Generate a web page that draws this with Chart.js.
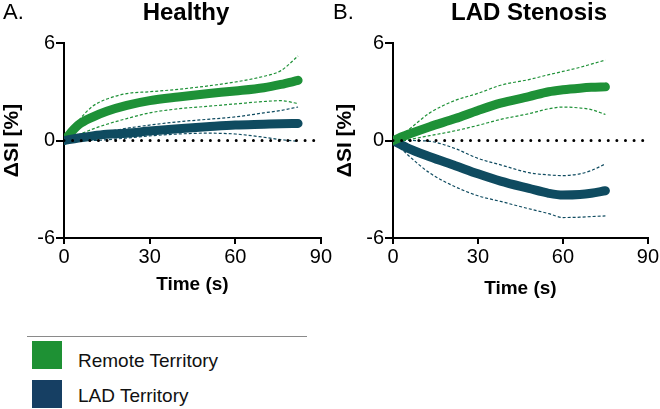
<!DOCTYPE html>
<html>
<head>
<meta charset="utf-8">
<script src="https://cdn.jsdelivr.net/npm/chart.js@4.4.1/dist/chart.umd.min.js"></script>
<style>
  html, body { margin: 0; padding: 0; background: #fff; }
  body { width: 660px; height: 409px; position: relative; overflow: hidden; font-family: 'Liberation Sans', Arial, sans-serif; }
  canvas { position: absolute; top: 0; }
  #ca { left: 0; }
  #cb { left: 330px; }
  .lbl { position: absolute; line-height: 1; white-space: nowrap; color: #000; }
  .panel { font-size: 22px; }
  .ttl { font-size: 24px; font-weight: bold; width: 200px; text-align: center; }
  .rule { position: absolute; left: 27px; top: 336px; width: 280px; height: 1px; background: #8a8a8a; }
  .sw { position: absolute; left: 32px; width: 30px; height: 28px; }
  .leg { position: absolute; left: 78px; font-size: 19px; line-height: 1; white-space: nowrap; color: #111; }
</style>
</head>
<body>
<canvas id="ca" width="333" height="300"></canvas>
<canvas id="cb" width="330" height="300"></canvas>
<div class="lbl panel" style="left:3px; top:1px;">A.</div>
<div class="lbl ttl" style="left:86px; top:0px;">Healthy</div>
<div class="lbl panel" style="left:333px; top:1px;">B.</div>
<div class="lbl ttl" style="left:429px; top:0px;">LAD Stenosis</div>
<div class="rule"></div>
<div class="sw" style="top:341px; background:#1e9134;"></div>
<div class="leg" style="top:351px;">Remote Territory</div>
<div class="sw" style="top:380px; background:#163f63;"></div>
<div class="leg" style="top:386px;">LAD Territory</div>
<script>
// ---------- data ----------
const TICKS_X = [0, 30, 60, 90];
const TICKS_Y = [-6, 0, 6];

// Panel A: Healthy
const TIME_A          = [0, 5, 10, 15, 22, 30, 40, 50, 60, 70, 76, 82];
const REMOTE_A        = [0, 0.95, 1.44, 1.8, 2.16, 2.45, 2.68, 2.88, 3.05, 3.25, 3.45, 3.7];
const REMOTE_A_UPPER  = [0, 1.2, 2.1, 2.55, 2.89, 3.0, 3.15, 3.35, 3.6, 3.95, 4.3, 5.2];
const REMOTE_A_LOWER  = [0, 0.35, 0.7, 1.0, 1.35, 1.7, 1.95, 2.1, 2.25, 2.4, 2.45, 2.27];
const LAD_A           = [0, 0.15, 0.28, 0.38, 0.45, 0.58, 0.72, 0.84, 0.95, 1.0, 1.03, 1.05];
const LAD_A_UPPER     = [0, 0.2, 0.4, 0.55, 0.75, 0.95, 1.15, 1.3, 1.45, 1.7, 1.85, 2.06];
const LAD_A_LOWER     = [0, 0, 0, 0.05, 0.15, 0.28, 0.4, 0.45, 0.4, 0.2, 0.05, -0.05];

// Panel B: LAD Stenosis
const TIME_B          = [0, 5, 13, 22, 30, 38, 48, 55, 60, 66, 70, 75];
const REMOTE_B        = [0, 0.35, 0.85, 1.35, 1.85, 2.3, 2.7, 3.0, 3.12, 3.22, 3.27, 3.3];
const REMOTE_B_UPPER  = [0, 0.6, 1.7, 2.47, 2.9, 3.4, 3.75, 4.05, 4.25, 4.5, 4.7, 4.95];
const REMOTE_B_LOWER  = [0, 0.05, 0.3, 0.6, 0.93, 1.3, 1.65, 1.95, 2.06, 2.0, 1.9, 1.6];
const LAD_B           = [0, -0.45, -1.0, -1.55, -2.05, -2.5, -2.95, -3.25, -3.36, -3.33, -3.25, -3.09];
const LAD_B_UPPER     = [0, 0, -0.05, -0.5, -1.1, -1.5, -1.98, -2.12, -2.16, -2.05, -1.85, -1.44];
const LAD_B_LOWER     = [0, -0.85, -2.0, -2.85, -3.4, -3.75, -4.2, -4.5, -4.74, -4.72, -4.68, -4.64];

const ZERO_X = [0, 90];
const ZERO_Y = [0, 0];

// ---------- styles ----------
const GREEN = '#1e9137';
const NAVY = '#0f4b60';

Chart.defaults.font.family = "'Liberation Sans', Arial, sans-serif";
Chart.defaults.color = '#000';

function pts(xs, ys) { return xs.map((x, i) => ({ x: x, y: ys[i] })); }

function meanDs(xs, ys, color) {
  return { data: pts(xs, ys), borderColor: color, borderWidth: 9, borderCapStyle: 'round',
           borderJoinStyle: 'round', pointRadius: 0, cubicInterpolationMode: 'monotone', fill: false };
}
function bandDs(xs, ys, color) {
  return { data: pts(xs, ys), borderColor: color, borderWidth: 1.2, borderDash: [3, 2],
           pointRadius: 0, cubicInterpolationMode: 'monotone', fill: false };
}
function zeroDs() {
  return { data: pts(ZERO_X, ZERO_Y), borderColor: '#000', borderWidth: 3, borderDash: [0.01, 8.6],
           borderCapStyle: 'round', pointRadius: 0, fill: false };
}

function makeChart(id, sets, opt) {
  return new Chart(document.getElementById(id), {
    type: 'line',
    data: { datasets: sets },
    options: {
      responsive: false,
      animation: false,
      events: [],
      layout: { padding: { left: 0, right: opt.padRight, top: 43, bottom: 0 } },
      plugins: { legend: { display: false }, tooltip: { enabled: false } },
      scales: {
        x: {
          type: 'linear', min: 0, max: 90,
          afterBuildTicks: s => { s.ticks = TICKS_X.map(v => ({ value: v })); },
          afterFit: s => { s.height = 300 - 238; },
          ticks: { font: { size: 20 }, padding: 1, maxRotation: 0, color: '#000' },
          grid: { drawOnChartArea: false, drawTicks: true, tickLength: 6, color: '#000', lineWidth: 2 },
          border: { display: true, color: '#000', width: 2 },
          title: { display: true, text: 'Time (s)', font: { size: 19, weight: 'bold' },
                   padding: { top: 0, bottom: opt.xTitlePad }, color: '#000' }
        },
        y: {
          type: 'linear', min: -6, max: 6,
          afterBuildTicks: s => { s.ticks = TICKS_Y.map(v => ({ value: v })); },
          afterFit: s => { s.width = opt.yWidth; },
          ticks: { font: { size: 20 }, padding: 1, color: '#000' },
          grid: { drawOnChartArea: false, drawTicks: true, tickLength: 8, color: '#000', lineWidth: 2 },
          border: { display: true, color: '#000', width: 2 },
          title: { display: true, text: 'ΔSI [%]', font: { size: 21, weight: 'bold' },
                   padding: { top: opt.yTitlePad, bottom: 0 }, color: '#000' }
        }
      }
    }
  });
}

makeChart('ca', [
  zeroDs(),
  bandDs(TIME_A, LAD_A_UPPER, NAVY),
  bandDs(TIME_A, LAD_A_LOWER, NAVY),
  meanDs(TIME_A, LAD_A, NAVY),
  bandDs(TIME_A, REMOTE_A_UPPER, GREEN),
  bandDs(TIME_A, REMOTE_A_LOWER, GREEN),
  meanDs(TIME_A, REMOTE_A, GREEN)
], { padRight: 12, yWidth: 64, xTitlePad: 4, yTitlePad: 0 });

makeChart('cb', [
  zeroDs(),
  bandDs(TIME_B, REMOTE_B_UPPER, GREEN),
  bandDs(TIME_B, REMOTE_B_LOWER, GREEN),
  meanDs(TIME_B, REMOTE_B, GREEN),
  bandDs(TIME_B, LAD_B_UPPER, NAVY),
  bandDs(TIME_B, LAD_B_LOWER, NAVY),
  meanDs(TIME_B, LAD_B, NAVY)
], { padRight: 11, yWidth: 63, xTitlePad: 0, yTitlePad: 3 });
</script>
</body>
</html>
